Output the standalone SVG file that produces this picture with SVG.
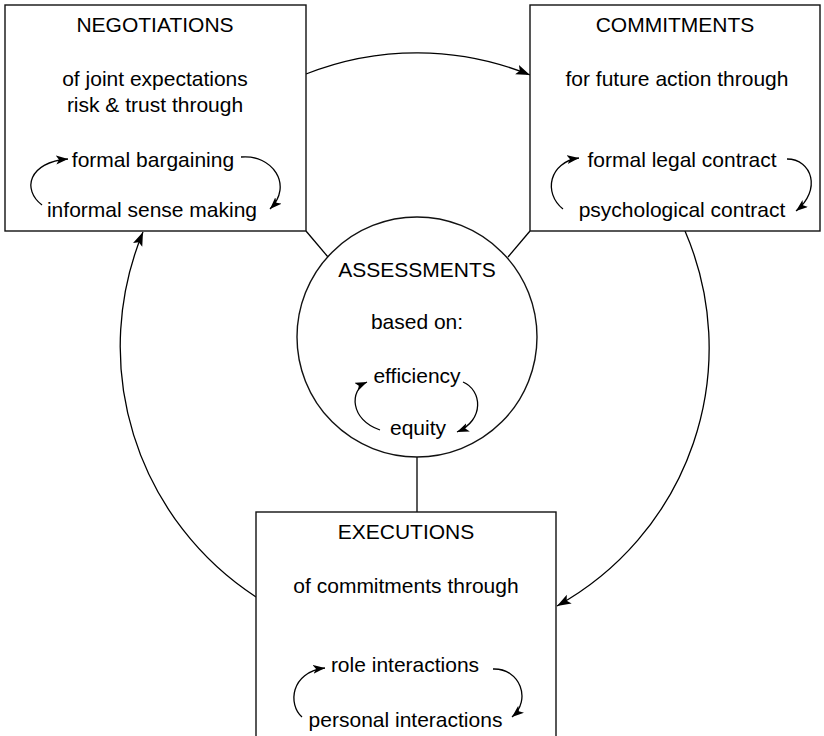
<svg xmlns="http://www.w3.org/2000/svg" width="824" height="736" viewBox="0 0 824 736">
<defs>
<marker id="big" markerUnits="userSpaceOnUse" markerWidth="15" markerHeight="11" refX="14" refY="5" orient="auto">
<path d="M0,0 L14,5 L0,10 L3,5 z" fill="#000"/>
</marker>
<marker id="small" markerUnits="userSpaceOnUse" markerWidth="13" markerHeight="10" refX="12" refY="4.5" orient="auto">
<path d="M0,0 L12,4.5 L0,9 L3,4.5 z" fill="#000"/>
</marker>
</defs>
<style>
.box{fill:#fff;stroke:#111;stroke-width:1.4}
.ln{fill:none;stroke:#000;stroke-width:1.3}
.cy{fill:none;stroke:#000;stroke-width:1.3;marker-end:url(#small)}
.arc{fill:none;stroke:#000;stroke-width:1.3;marker-end:url(#big)}
text{font-family:"Liberation Sans",Arial,Helvetica,sans-serif;font-size:21px;fill:#000;text-anchor:middle}
</style>
<rect width="824" height="736" fill="#fff"/>
<g id="connectors">
<path class="arc" d="M306,74 A300,300 0 0 1 530,75"/>
<path class="arc" d="M256,597 A299,299 0 0 1 143,232"/>
<path class="arc" d="M685,231 A295,295 0 0 1 557,606"/>
<line class="ln" x1="306" y1="231" x2="328" y2="257"/>
<line class="ln" x1="530" y1="231" x2="508" y2="257"/>
<line class="ln" x1="417" y1="457" x2="417" y2="512"/>
</g>
<g id="negotiations">
<rect class="box" x="5" y="5" width="301" height="226"/>
<text x="155" y="32">NEGOTIATIONS</text>
<text x="155" y="86">of joint expectations</text>
<text x="155" y="112">risk &amp; trust through</text>
<text x="153" y="167">formal bargaining</text>
<text x="152" y="217">informal sense making</text>
<path class="cy" d="M42,205 C22,190 28,162 68,159"/>
<path class="cy" d="M241,157 C272,154 294,185 270,209"/>
</g>
<g id="commitments">
<rect class="box" x="530" y="5" width="290" height="226"/>
<text x="675" y="32">COMMITMENTS</text>
<text x="677" y="86">for future action through</text>
<text x="682" y="167">formal legal contract</text>
<text x="682" y="217">psychological contract</text>
<path class="cy" d="M563,209 C543,193 549,162 579,158"/>
<path class="cy" d="M787,159 C812,159 822,190 796,211"/>
</g>
<g id="assessments">
<circle class="box" cx="417" cy="337" r="120"/>
<text x="417" y="277">ASSESSMENTS</text>
<text x="417" y="329">based on:</text>
<text x="417" y="383">efficiency</text>
<text x="418" y="435">equity</text>
<path class="cy" d="M380,430 C350,420 349,390 367,382"/>
<path class="cy" d="M463,382 C482,390 485,420 457,432"/>
</g>
<g id="executions">
<rect class="box" x="256" y="512" width="300" height="240"/>
<text x="406" y="539">EXECUTIONS</text>
<text x="406" y="593">of commitments through</text>
<text x="405" y="672">role interactions</text>
<text x="405.5" y="727">personal interactions</text>
<path class="cy" d="M302,717 C288,705 290,672 325,668"/>
<path class="cy" d="M493,669 C520,668 532,700 512,717"/>
</g>
</svg>
